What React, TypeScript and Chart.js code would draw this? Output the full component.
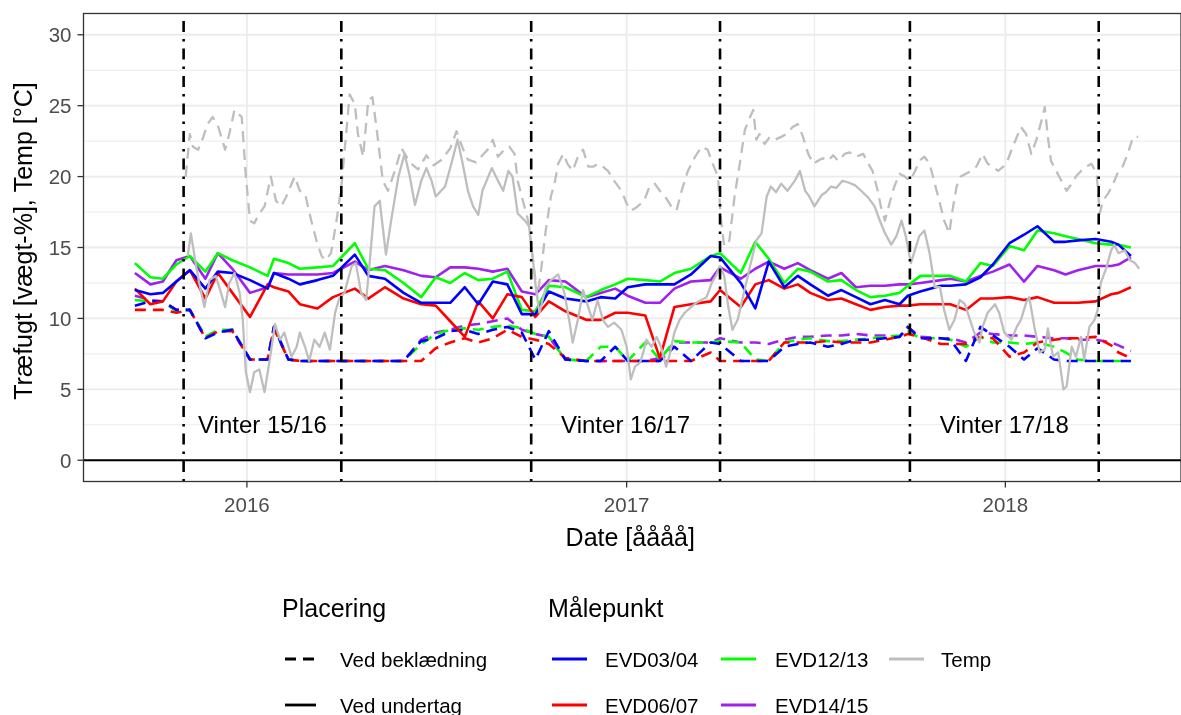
import React, { useEffect, useRef } from "react";
import { Chart, registerables } from "chart.js";

Chart.register(...registerables);

// ---------------- DATA ----------------
// All x values are days counted from 2016-01-01 (day 0).
const sampleDay = [-108, -93, -81, -68, -55, -40, -28, -14, 3, 20, 26, 40, 51, 68, 83, 104, 117, 133, 151, 168, 182, 196, 210, 223, 237, 251, 265, 278, 291, 307, 327, 341, 355, 367, 384, 398, 412, 428, 447, 456, 476, 490, 503, 518, 531, 543, 560, 573, 587, 601, 615, 629, 637, 649, 669, 678, 693, 707, 719, 735, 749, 762, 778, 789, 801, 818, 833, 840, 852];

// Træfugt ved undertag (solid)
const evd0304Undertag = [12.0, 11.7, 11.8, 12.6, 13.4, 12.1, 13.3, 13.2, 12.7, 12.1, 13.2, 12.8, 12.4, 12.7, 13.0, 14.5, 13.0, 12.8, 11.8, 11.1, 11.1, 11.1, 12.2, 11.0, 12.6, 12.4, 10.3, 10.3, 11.9, 11.4, 11.2, 11.5, 11.4, 12.2, 12.4, 12.4, 12.4, 13.1, 14.4, 14.3, 12.5, 10.7, 14.0, 12.2, 13.0, 12.4, 11.6, 12.0, 11.5, 11.0, 11.3, 11.0, 11.6, 11.9, 12.3, 12.3, 12.4, 12.9, 13.8, 15.3, 15.9, 16.5, 15.4, 15.4, 15.5, 15.6, 15.4, 15.2, 14.4];
const evd0607Undertag = [12.1, 11.0, 11.2, 12.6, 13.4, 11.4, 13.2, 11.8, 10.1, 12.4, 12.2, 11.9, 11.0, 10.7, 11.5, 12.1, 11.4, 12.2, 11.4, 11.0, 10.9, 9.8, 8.7, 11.2, 10.0, 11.7, 11.5, 10.1, 11.2, 10.5, 9.9, 9.9, 10.4, 10.4, 10.2, 7.2, 10.8, 11.0, 11.2, 12.0, 10.8, 12.4, 12.7, 12.1, 12.4, 11.8, 11.3, 11.4, 11.0, 10.6, 10.8, 10.9, 10.9, 11.0, 11.0, 11.0, 10.6, 11.4, 11.4, 11.5, 11.3, 11.5, 11.1, 11.1, 11.1, 11.2, 11.7, 11.8, 12.2];
const evd1213Undertag = [13.9, 12.9, 12.8, 13.8, 14.4, 13.3, 14.6, 14.1, 13.6, 13.0, 14.2, 13.9, 13.5, 13.6, 13.7, 15.3, 13.5, 13.4, 12.5, 11.5, 12.9, 12.5, 13.2, 12.7, 12.8, 13.3, 10.6, 10.5, 12.3, 12.2, 11.5, 12.0, 12.4, 12.8, 12.7, 12.6, 13.2, 13.5, 14.4, 14.6, 13.2, 15.4, 14.2, 12.5, 13.5, 13.3, 12.6, 12.7, 12.0, 11.5, 11.6, 11.8, 12.3, 13.0, 13.0, 13.0, 12.6, 13.9, 13.7, 15.1, 14.8, 16.2, 16.0, 15.8, 15.6, 15.3, 15.2, 15.2, 15.0];
const evd1415Undertag = [13.2, 12.4, 12.6, 14.1, 14.4, 12.8, 14.6, 13.5, 11.8, 12.2, 13.2, 13.1, 13.1, 13.1, 13.2, 14.0, 13.4, 13.7, 13.4, 13.0, 12.9, 13.6, 13.6, 13.5, 13.3, 13.5, 11.9, 11.7, 12.7, 12.6, 11.5, 11.8, 12.1, 11.6, 11.1, 11.1, 12.1, 12.6, 12.7, 13.6, 12.8, 13.5, 14.0, 13.5, 13.9, 13.4, 12.8, 13.2, 12.2, 12.3, 12.3, 12.4, 12.4, 12.5, 12.7, 12.8, 12.6, 13.0, 13.3, 13.8, 12.6, 13.7, 13.4, 13.1, 13.4, 13.7, 13.7, 13.8, 14.3];

// Træfugt ved beklædning (dashed)
const evd0304Beklaedning = [10.9, 11.2, 11.2, 10.6, 10.6, 8.6, 9.0, 9.2, 7.1, 7.1, 9.4, 7.1, 7.0, 7.0, 7.0, 7.0, 7.0, 7.0, 7.0, 8.4, 8.6, 9.1, 9.2, 8.9, 9.2, 9.4, 9.0, 7.1, 9.1, 7.1, 7.0, 7.0, 8.0, 7.0, 7.0, 7.0, 8.0, 7.0, 8.3, 8.2, 7.0, 7.0, 7.0, 8.0, 8.2, 8.3, 8.0, 8.2, 8.5, 8.5, 8.6, 8.7, 9.4, 8.6, 8.6, 8.5, 7.0, 9.4, 8.8, 8.0, 7.1, 7.9, 7.1, 7.0, 7.0, 7.0, 7.0, 7.0, 7.0];
const evd0607Beklaedning = [10.6, 10.6, 10.6, 10.4, 10.6, 8.6, 9.1, 9.1, 7.1, 7.1, 9.3, 7.1, 7.0, 7.0, 7.0, 7.0, 7.0, 7.0, 7.0, 7.0, 7.9, 8.3, 8.6, 8.3, 8.6, 9.2, 8.7, 8.5, 8.2, 7.2, 7.0, 7.0, 7.0, 7.0, 7.0, 7.0, 7.0, 7.0, 7.6, 7.0, 7.0, 7.0, 7.0, 8.3, 8.3, 8.3, 8.4, 8.3, 8.3, 8.3, 8.5, 8.7, 8.9, 8.7, 8.2, 8.2, 8.2, 8.7, 8.6, 7.3, 7.6, 8.3, 8.5, 8.6, 8.6, 8.7, 8.1, 7.6, 7.2];
const evd1213Beklaedning = [11.3, 11.2, 11.2, 10.5, 10.6, 8.7, 9.2, 9.2, 7.1, 7.1, 9.3, 7.1, 7.0, 7.0, 7.0, 7.0, 7.0, 7.0, 7.0, 8.2, 8.9, 9.2, 9.3, 9.2, 9.4, 9.5, 9.3, 8.9, 8.7, 7.1, 7.0, 8.0, 8.0, 7.0, 8.3, 7.1, 8.4, 8.3, 8.3, 8.4, 8.3, 7.1, 7.0, 8.3, 8.5, 8.6, 8.4, 8.4, 8.5, 8.6, 8.7, 8.8, 9.1, 8.6, 8.6, 8.5, 8.0, 8.7, 8.3, 8.3, 8.2, 8.3, 8.0, 7.6, 7.1, 7.0, 7.0, 7.0, 7.0];
const evd1415Beklaedning = [11.6, 11.3, 11.2, 10.6, 10.6, 8.7, 9.1, 9.2, 7.1, 7.1, 9.4, 7.1, 7.0, 7.0, 7.0, 7.0, 7.0, 7.0, 7.0, 8.5, 9.0, 9.2, 9.5, 9.6, 9.8, 10.0, 9.2, 8.9, 8.7, 7.1, 7.0, 7.0, 7.0, 7.0, 7.0, 7.2, 8.3, 8.3, 8.3, 8.6, 8.3, 8.3, 8.2, 8.5, 8.7, 8.7, 8.8, 8.8, 8.9, 8.8, 8.8, 8.7, 9.4, 8.7, 8.6, 8.6, 8.3, 9.0, 8.9, 8.8, 8.8, 8.7, 8.6, 8.6, 8.5, 8.5, 8.3, 8.1, 7.7];

// Temperatur ved undertag (solid grey)
const tempUndertagDay = [-57, -54, -49, -46, -41, -36, -30, -25, -21, -17, -12, -7, -4, -1, 3, 7, 12, 17, 22, 27, 32, 36, 43, 48, 51, 56, 60, 65, 70, 75, 80, 85, 89, 94, 101, 105, 110, 115, 118, 123, 128, 134, 139, 146, 152, 157, 162, 168, 173, 178, 182, 191, 197, 203, 208, 213, 218, 223, 227, 236, 242, 247, 252, 256, 261, 268, 272, 276, 279, 282, 288, 293, 300, 306, 311, 314, 319, 324, 329, 333, 338, 343, 348, 354, 361, 366, 370, 374, 379, 382, 385, 390, 395, 399, 404, 407, 412, 417, 422, 428, 433, 438, 443, 448, 452, 456, 460, 464, 468, 473, 478, 485, 491, 496, 501, 505, 510, 515, 521, 528, 533, 538, 542, 547, 554, 558, 563, 568, 574, 579, 586, 592, 599, 605, 610, 615, 621, 626, 631, 635, 640, 648, 653, 658, 663, 668, 672, 677, 682, 687, 692, 697, 701, 706, 709, 714, 721, 725, 730, 737, 742, 746, 751, 754, 759, 764, 769, 772, 777, 782, 787, 790, 795, 799, 804, 807, 812, 817, 820, 823, 828, 833, 836, 840, 846, 851, 856, 860];
const tempUndertag = [14.4, 16.0, 13.7, 12.5, 10.8, 12.7, 13.0, 11.8, 10.8, 12.5, 13.2, 11.8, 9.9, 6.2, 4.8, 6.2, 6.4, 4.8, 7.1, 9.6, 8.5, 9.0, 7.3, 8.0, 9.0, 8.0, 7.0, 8.5, 8.0, 9.0, 7.8, 10.4, 11.4, 11.8, 13.7, 13.9, 11.8, 11.3, 13.7, 17.9, 18.3, 14.5, 16.9, 20.0, 21.6, 20.0, 18.0, 19.7, 20.6, 19.7, 18.6, 19.3, 20.9, 22.6, 20.9, 19.0, 17.9, 17.3, 19.0, 20.6, 19.7, 19.0, 20.4, 20.0, 17.4, 16.9, 16.5, 13.9, 11.8, 10.4, 12.2, 12.7, 13.1, 11.8, 9.7, 8.3, 9.9, 12.0, 10.8, 9.9, 11.3, 9.9, 9.4, 9.7, 9.2, 8.0, 5.7, 6.6, 6.9, 7.6, 8.5, 8.0, 8.7, 8.0, 6.6, 7.3, 9.0, 9.9, 10.4, 10.8, 11.1, 11.3, 11.5, 12.5, 13.0, 13.7, 13.0, 10.8, 9.2, 9.9, 11.5, 13.7, 15.5, 16.0, 18.6, 19.3, 18.9, 19.5, 19.0, 19.7, 20.4, 19.0, 18.6, 17.9, 18.7, 18.9, 19.3, 19.2, 19.7, 19.6, 19.4, 19.0, 18.5, 17.9, 16.9, 16.0, 15.2, 15.8, 16.9, 15.8, 13.9, 15.8, 16.2, 14.6, 12.2, 12.2, 10.6, 9.2, 9.9, 11.3, 11.0, 9.9, 9.0, 8.3, 9.4, 10.4, 11.0, 10.4, 9.0, 8.5, 9.4, 9.9, 11.1, 11.5, 9.4, 7.6, 7.8, 9.3, 7.3, 7.6, 5.0, 5.2, 8.0, 7.3, 8.7, 7.1, 9.4, 9.9, 10.6, 12.5, 13.5, 14.8, 15.2, 14.6, 14.8, 14.1, 13.9, 13.5];

// Temperatur ved beklædning (dashed grey)
const tempBeklaedningDay = [-59, -55, -52, -47, -42, -38, -33, -28, -21, -17, -12, -5, -1, 3, 7, 12, 17, 23, 28, 33, 38, 46, 51, 56, 62, 67, 72, 76, 81, 86, 91, 96, 99, 104, 107, 112, 117, 121, 126, 131, 136, 143, 149, 157, 165, 173, 180, 188, 196, 202, 208, 213, 221, 227, 232, 237, 242, 248, 253, 258, 261, 266, 271, 274, 277, 280, 284, 288, 293, 297, 300, 305, 309, 314, 319, 324, 329, 334, 338, 343, 348, 354, 361, 366, 370, 375, 383, 388, 393, 398, 403, 409, 414, 419, 425, 432, 438, 444, 449, 454, 457, 460, 465, 470, 475, 480, 485, 488, 491, 494, 499, 504, 509, 515, 520, 526, 531, 536, 541, 546, 550, 555, 560, 565, 570, 576, 581, 587, 594, 599, 603, 608, 611, 615, 620, 624, 629, 634, 639, 644, 648, 653, 658, 663, 668, 672, 677, 680, 684, 688, 693, 698, 703, 709, 714, 719, 724, 729, 733, 737, 741, 746, 751, 756, 761, 766, 769, 772, 775, 780, 785, 790, 795, 799, 804, 809, 814, 819, 822, 825, 830, 835, 840, 844, 849, 854, 859];
const tempBeklaedning = [20.0, 23.0, 22.1, 21.9, 22.8, 23.7, 24.2, 23.6, 21.9, 23.0, 24.7, 24.2, 20.0, 16.9, 16.7, 17.4, 17.9, 20.0, 18.3, 17.9, 18.6, 20.0, 19.0, 18.8, 16.9, 15.5, 14.4, 14.1, 14.6, 16.7, 19.3, 23.3, 25.8, 25.1, 23.0, 21.4, 25.4, 25.6, 22.8, 19.7, 19.0, 20.5, 22.0, 21.0, 20.5, 21.5, 20.8, 21.2, 22.0, 23.2, 22.0, 21.2, 21.0, 21.5, 21.9, 22.6, 21.4, 21.9, 22.1, 21.6, 19.7, 18.3, 16.9, 15.1, 13.4, 11.5, 13.7, 16.2, 18.6, 19.7, 20.9, 21.6, 20.9, 20.4, 21.4, 21.9, 20.7, 20.7, 20.9, 20.7, 20.4, 19.7, 19.0, 18.1, 17.6, 17.8, 18.3, 19.3, 19.5, 19.0, 18.6, 17.9, 17.6, 19.0, 20.4, 21.4, 22.1, 21.9, 20.9, 20.0, 16.9, 15.1, 15.5, 18.6, 20.9, 23.3, 24.2, 24.7, 22.6, 23.0, 22.3, 22.8, 22.6, 22.8, 23.0, 23.5, 23.7, 22.8, 21.6, 20.9, 21.1, 21.3, 21.1, 21.5, 21.1, 21.6, 21.7, 21.4, 21.6, 20.9, 20.4, 19.0, 17.9, 16.9, 18.3, 19.3, 20.2, 20.0, 19.7, 20.4, 21.1, 21.4, 20.9, 19.5, 18.1, 16.9, 16.0, 17.6, 19.3, 20.0, 20.2, 20.4, 20.7, 21.6, 20.9, 20.7, 20.4, 20.7, 21.1, 21.9, 22.6, 23.5, 23.0, 21.6, 22.6, 24.0, 24.9, 22.8, 21.1, 20.4, 19.7, 19.0, 19.5, 20.0, 20.4, 20.7, 20.9, 20.2, 17.4, 18.3, 18.8, 19.5, 20.4, 20.7, 21.6, 22.8, 22.8];

// Axes, annotations and legend texts
const yearTickDay = [0, 366, 731];
const yearTickLabel = ["2016", "2017", "2018"];
const halfYearDay = [182, 547];
const yMajorTicks = [0, 5, 10, 15, 20, 25, 30];
const yMinorTicks = [2.5, 7.5, 12.5, 17.5, 22.5, 27.5];
const xRange = [-157.5, 900.3];
const yRange = [-1.5, 31.5];
const winterStartDay = [-61, 274, 639];
const winterEndDay = [91, 456, 821];
const winterLabel = ["Vinter 15/16", "Vinter 16/17", "Vinter 17/18"];
const winterLabelY = 1.9;
const xTitle = "Date [åååå]";
const yTitle = "Træfugt [vægt-%], Temp [°C]";
const placeringTitle = "Placering";
const placeringLabels = ["Ved beklædning", "Ved undertag"];
const maalepunktTitle = "Målepunkt";
const maalepunktLabels = ["EVD03/04", "EVD06/07", "EVD12/13", "EVD14/15", "Temp"];

// ---------------- STYLE ----------------
const FONT = "'Liberation Sans', Arial, Helvetica, sans-serif";
const COLORS: Record<string, string> = {
  "EVD03/04": "#0000ff",
  "EVD06/07": "#ff0000",
  "EVD12/13": "#00ff00",
  "EVD14/15": "#a020f0",
  Temp: "#bebebe",
};
const DASH = [11, 7];
const LINE_W = 2.6;

const panelPlugin = {
  id: "panelDecor",
  beforeDatasetsDraw(chart: any) {
    const { ctx, chartArea: a, scales } = chart;
    const xs = scales.x, ys = scales.y;
    ctx.save();
    ctx.beginPath();
    ctx.rect(a.left, a.top, a.right - a.left, a.bottom - a.top);
    ctx.clip();
    ctx.strokeStyle = "#ebebeb";
    ctx.lineWidth = 1;
    yMinorTicks.forEach((v) => {
      const p = ys.getPixelForValue(v);
      ctx.beginPath(); ctx.moveTo(a.left, p); ctx.lineTo(a.right, p); ctx.stroke();
    });
    halfYearDay.forEach((v) => {
      const p = xs.getPixelForValue(v);
      ctx.beginPath(); ctx.moveTo(p, a.top); ctx.lineTo(p, a.bottom); ctx.stroke();
    });
    ctx.lineWidth = 1.8;
    yMajorTicks.forEach((v) => {
      const p = ys.getPixelForValue(v);
      ctx.beginPath(); ctx.moveTo(a.left, p); ctx.lineTo(a.right, p); ctx.stroke();
    });
    yearTickDay.forEach((v) => {
      const p = xs.getPixelForValue(v);
      ctx.beginPath(); ctx.moveTo(p, a.top); ctx.lineTo(p, a.bottom); ctx.stroke();
    });
    ctx.restore();
  },
  afterDatasetsDraw(chart: any) {
    const { ctx, chartArea: a, scales } = chart;
    const xs = scales.x, ys = scales.y;
    ctx.save();
    ctx.beginPath();
    ctx.rect(a.left, a.top, a.right - a.left, a.bottom - a.top);
    ctx.clip();
    // horizontal reference line at 0
    const y0 = ys.getPixelForValue(0);
    ctx.strokeStyle = "#000";
    ctx.lineWidth = 2;
    ctx.beginPath(); ctx.moveTo(a.left, y0); ctx.lineTo(a.right, y0); ctx.stroke();
    // winter period lines (dot-dash)
    ctx.lineWidth = 2.6;
    ctx.setLineDash([2.5, 7, 11, 7]);
    [...winterStartDay, ...winterEndDay].forEach((d) => {
      const p = xs.getPixelForValue(d);
      ctx.beginPath(); ctx.moveTo(p, a.bottom); ctx.lineTo(p, a.top); ctx.stroke();
    });
    ctx.setLineDash([]);
    // winter labels
    ctx.fillStyle = "#000";
    ctx.font = `24px ${FONT}`;
    ctx.textAlign = "center";
    ctx.textBaseline = "alphabetic";
    winterLabel.forEach((t, i) => {
      const px = (xs.getPixelForValue(winterStartDay[i]) + xs.getPixelForValue(winterEndDay[i])) / 2;
      ctx.fillText(t, px, ys.getPixelForValue(winterLabelY));
    });
    ctx.restore();
    // panel border
    ctx.save();
    ctx.strokeStyle = "#333333";
    ctx.lineWidth = 1.3;
    ctx.strokeRect(a.left, a.top, a.right - a.left, a.bottom - a.top);
    ctx.restore();
  },
  afterDraw(chart: any) {
    const { ctx, chartArea: a, scales } = chart;
    const xs = scales.x, ys = scales.y;
    ctx.save();
    // tick marks
    ctx.strokeStyle = "#333333";
    ctx.lineWidth = 1.3;
    yMajorTicks.forEach((v) => {
      const p = ys.getPixelForValue(v);
      ctx.beginPath(); ctx.moveTo(a.left - 6, p); ctx.lineTo(a.left, p); ctx.stroke();
    });
    yearTickDay.forEach((v) => {
      const p = xs.getPixelForValue(v);
      ctx.beginPath(); ctx.moveTo(p, a.bottom); ctx.lineTo(p, a.bottom + 6); ctx.stroke();
    });
    // tick labels
    ctx.fillStyle = "#4d4d4d";
    ctx.font = `20.5px ${FONT}`;
    ctx.textBaseline = "alphabetic";
    ctx.textAlign = "right";
    yMajorTicks.forEach((v) => {
      ctx.fillText(String(v), a.left - 12, ys.getPixelForValue(v) + 7.3);
    });
    ctx.textAlign = "center";
    yearTickDay.forEach((v, i) => {
      ctx.fillText(yearTickLabel[i], xs.getPixelForValue(v), a.bottom + 30.5);
    });
    // axis titles
    ctx.fillStyle = "#000";
    ctx.font = `25px ${FONT}`;
    ctx.fillText(xTitle, (a.left + a.right) / 2 - 2, 546);
    ctx.save();
    ctx.translate(32, 241);
    ctx.rotate(-Math.PI / 2);
    ctx.fillText(yTitle, 0, 0);
    ctx.restore();
    // legend
    ctx.textAlign = "left";
    ctx.font = `25px ${FONT}`;
    ctx.fillText(placeringTitle, 282, 617);
    ctx.fillText(maalepunktTitle, 548, 617);
    const rowY = [659, 705];
    ctx.font = `20.5px ${FONT}`;
    ctx.lineWidth = 2.8;
    placeringLabels.forEach((t, i) => {
      ctx.strokeStyle = "#000";
      ctx.setLineDash(i === 0 ? DASH : []);
      ctx.beginPath(); ctx.moveTo(285, rowY[i]); ctx.lineTo(316, rowY[i]); ctx.stroke();
      ctx.setLineDash([]);
      ctx.fillStyle = "#000";
      ctx.fillText(t, 340, rowY[i] + 7.5);
    });
    const colKey = [552, 721, 889];
    const colText = [605, 775, 941];
    maalepunktLabels.forEach((t, i) => {
      const c = Math.floor(i / 2);
      const r = i % 2;
      ctx.strokeStyle = COLORS[t];
      ctx.beginPath(); ctx.moveTo(colKey[c], rowY[r]); ctx.lineTo(colKey[c] + 35, rowY[r]); ctx.stroke();
      ctx.fillStyle = "#000";
      ctx.fillText(t, colText[c], rowY[r] + 7.5);
    });
    ctx.restore();
  },
};

function pts(xs: number[], ys: number[]) {
  return xs.map((x, i) => ({ x, y: ys[i] }));
}

export default function App() {
  const ref = useRef<HTMLCanvasElement>(null);
  useEffect(() => {
    document.body.style.margin = "0";
    const canvas = ref.current;
    if (!canvas) return;
    const undertag: Record<string, number[]> = {
      "EVD03/04": evd0304Undertag,
      "EVD06/07": evd0607Undertag,
      "EVD12/13": evd1213Undertag,
      "EVD14/15": evd1415Undertag,
    };
    const beklaedning: Record<string, number[]> = {
      "EVD03/04": evd0304Beklaedning,
      "EVD06/07": evd0607Beklaedning,
      "EVD12/13": evd1213Beklaedning,
      "EVD14/15": evd1415Beklaedning,
    };
    const datasets: any[] = [
      {
        label: "Temp - " + placeringLabels[1],
        data: pts(tempUndertagDay, tempUndertag),
        borderColor: COLORS.Temp,
        borderWidth: 2.3,
        order: 0,
      },
      {
        label: "Temp - " + placeringLabels[0],
        data: pts(tempBeklaedningDay, tempBeklaedning),
        borderColor: COLORS.Temp,
        borderWidth: 2.3,
        borderDash: DASH,
        order: 0,
      },
    ];
    ["EVD03/04", "EVD06/07", "EVD12/13", "EVD14/15"].forEach((k) => {
      datasets.push({
        label: k + " - " + placeringLabels[1],
        data: pts(sampleDay, undertag[k]),
        borderColor: COLORS[k],
        borderWidth: LINE_W,
        order: 1,
      });
      datasets.push({
        label: k + " - " + placeringLabels[0],
        data: pts(sampleDay, beklaedning[k]),
        borderColor: COLORS[k],
        borderWidth: LINE_W,
        borderDash: DASH,
        order: 2,
      });
    });
    const chart = new Chart(canvas, {
      type: "line",
      data: { datasets },
      options: {
        animation: false,
        responsive: false,
        maintainAspectRatio: false,
        events: [],
        layout: { padding: { left: 83.5, top: 13.5, right: 0, bottom: 715 - 481.5 } },
        scales: {
          x: { type: "linear", min: xRange[0], max: xRange[1], display: false },
          y: { type: "linear", min: yRange[0], max: yRange[1], display: false },
        },
        elements: {
          point: { radius: 0 },
          line: { tension: 0, borderJoinStyle: "round", fill: false },
        },
        plugins: { legend: { display: false }, tooltip: { enabled: false }, title: { display: false } },
      },
      plugins: [panelPlugin],
    } as any);
    return () => chart.destroy();
  }, []);
  return (
    <div style={{ width: 1181, height: 715, background: "#fff" }}>
      <canvas ref={ref} width={1181} height={715} style={{ display: "block" }} />
    </div>
  );
}
